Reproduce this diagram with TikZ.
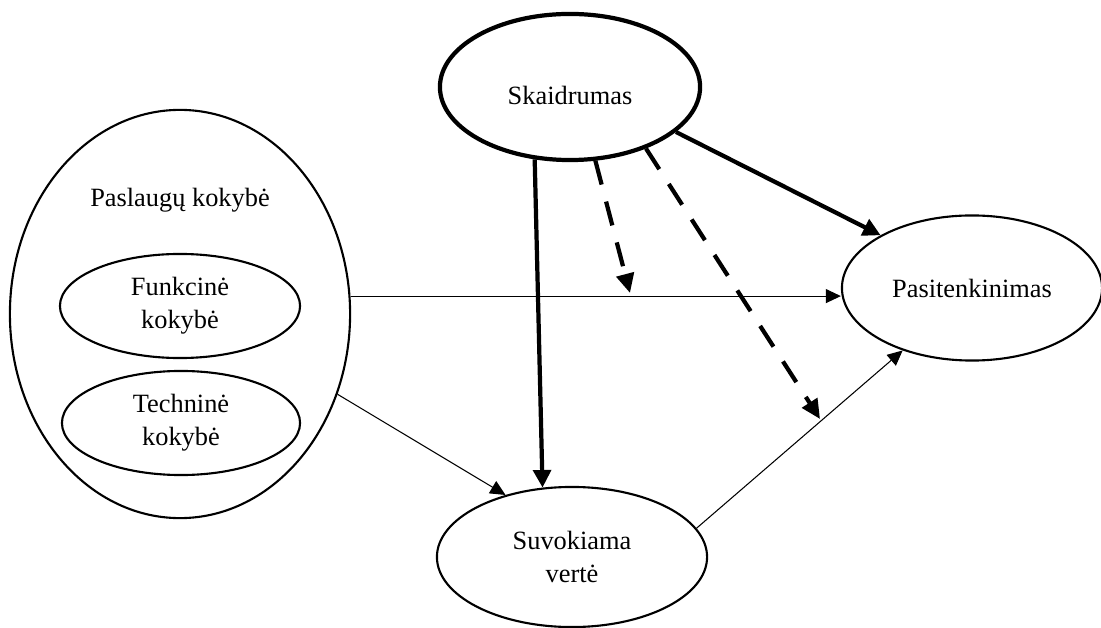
\documentclass[tikz,border=0pt]{standalone}
\usepackage{fontspec}
\setmainfont{Liberation Serif}
\usepackage{tikz}
\usetikzlibrary{
  arrows.meta,
  shapes.geometric,
}

\begin{document}
\begin{tikzpicture}[
  x=0.01cm, y=-0.01cm,
  font=\fontsize{7.5}{9.4}\selectfont,
  every node/.style={align=center},
  construct/.style={draw=black, line width=0.6pt, ellipse, inner sep=0pt},
  thinarrow/.style={-{Triangle[length=4.3pt, width=4pt]}, line width=0.3pt},
  boldarrow/.style={-{Triangle[length=5pt, width=5pt]}, line width=1.2pt},
  modarrow/.style={-{Triangle[length=5.5pt, width=5pt]}, line width=1.2pt,
    dash pattern=on 7pt off 5pt},
]
\useasboundingbox (0,0) rectangle (1101,628);

%% constructs
\node[construct, line width=1.2pt, minimum width=2.6cm, minimum height=1.46cm,
  text height=10pt] (transparency) at (570,87) {Skaidrumas};
\node[construct, minimum width=3.4cm, minimum height=4.08cm] (quality) at (180,314) {};
\node (qualitylabel) at (180,200) {Paslaugų kokybė};
\node[construct, minimum width=2.4cm, minimum height=1.04cm]
  (functional) at (180,306) {Funkcinė\\kokybė};
\node[construct, minimum width=2.38cm, minimum height=1.04cm]
  (technical) at (181,423) {Techninė\\kokybė};
\node[construct, minimum width=2.6cm, minimum height=1.45cm]
  (satisfaction) at (972,288) {Pasitenkinimas};
\node[construct, minimum width=2.7cm, minimum height=1.4cm]
  (value) at (572,557) {Suvokiama\\vertė};

%% direct paths
\draw[thinarrow] (quality.6) -- (quality.6 -| satisfaction.west);
\draw[thinarrow] (quality.-27) -- (value.137);
\draw[thinarrow] (value.13) -- (satisfaction.222);
\draw[boldarrow] (transparency.244) -- (value.113);
\draw[boldarrow] (transparency.-23) -- (satisfaction.150);

%% moderating effects
\coordinate (mod1) at (630,293);
\coordinate (mod2) at (820,419);
\draw[modarrow] (transparency.-71) -- (mod1);
\draw[modarrow] (transparency.-39) -- (mod2);

\end{tikzpicture}
\end{document}
